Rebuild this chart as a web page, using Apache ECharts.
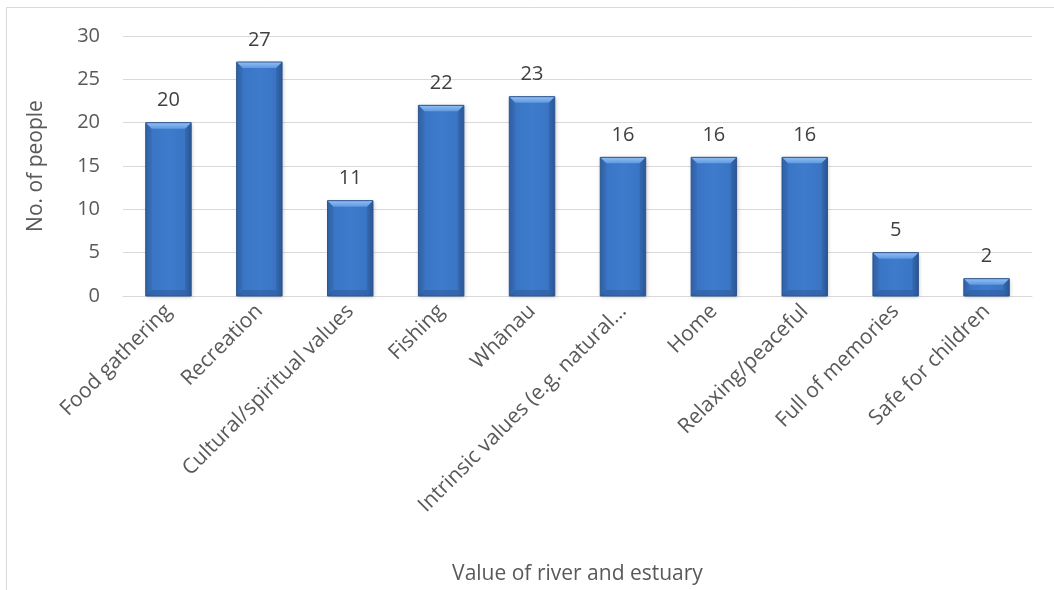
<!DOCTYPE html>
<html>
<head>
<meta charset="utf-8">
<script src="https://cdn.jsdelivr.net/npm/echarts@6/dist/echarts.min.js"></script>
<style>
  html, body { margin: 0; padding: 0; background: #fff; }
  #chart { width: 1054px; height: 590px; }
</style>
</head>
<body>
<div id="chart"></div>
<script>
// Values people attach to the river and estuary
const categories = [
  'Food gathering',
  'Recreation',
  'Cultural/spiritual values',
  'Fishing',
  'Whānau',
  'Intrinsic values (e.g. natural…',
  'Home',
  'Relaxing/peaceful',
  'Full of memories',
  'Safe for children'
];
const peopleCounts = [20, 27, 11, 22, 23, 16, 16, 16, 5, 2];
const yTicks = [0, 5, 10, 15, 20, 25, 30];

const FONT = '"Open Sans", "Liberation Sans", sans-serif';
const TEXT = '#595959';
const BAR_RATIO = 0.5;

const chart = echarts.init(document.getElementById('chart'), null, { renderer: 'canvas' });

const barFill = new echarts.graphic.LinearGradient(0, 0, 1, 0, [
  { offset: 0, color: '#3266ab' },
  { offset: 0.12, color: '#3a75c4' },
  { offset: 0.5, color: '#3e7bcc' },
  { offset: 0.88, color: '#3a75c4' },
  { offset: 1, color: '#2f60a2' }
]);

// Bevelled edges drawn over each bar, sized from the same axis scale
function renderBevel(params, api) {
  const idx = api.value(0);
  const top = api.coord([idx, api.value(1)]);
  const base = api.coord([idx, 0]);
  const w = api.size([1, 0])[0] * BAR_RATIO;
  const x0 = top[0] - w / 2, x1 = top[0] + w / 2;
  const y0 = top[1], y1 = base[1];
  const b = Math.min(6, (y1 - y0) / 2, w / 2);
  return {
    type: 'group',
    silent: true,
    children: [
      {
        type: 'polygon',
        shape: { points: [[x0, y0], [x1, y0], [x1 - b, y0 + b], [x0 + b, y0 + b]] },
        style: {
          fill: new echarts.graphic.LinearGradient(0, 0, 0, 1, [
            { offset: 0, color: '#93bff3' },
            { offset: 1, color: '#5f99e1' }
          ])
        }
      },
      {
        type: 'polygon',
        shape: { points: [[x0, y0], [x0 + b, y0 + b], [x0 + b, y1 - b], [x0, y1]] },
        style: { fill: 'rgba(30,60,110,0.12)' }
      },
      {
        type: 'polygon',
        shape: { points: [[x1, y0], [x1 - b, y0 + b], [x1 - b, y1 - b], [x1, y1]] },
        style: { fill: 'rgba(20,45,90,0.18)' }
      },
      {
        type: 'polygon',
        shape: { points: [[x0, y1], [x0 + b, y1 - b], [x1 - b, y1 - b], [x1, y1]] },
        style: { fill: 'rgba(20,45,90,0.22)' }
      },
      {
        type: 'rect',
        shape: { x: x0, y: y0, width: w, height: y1 - y0 },
        style: { fill: 'none', stroke: '#2c558f', lineWidth: 1 }
      }
    ]
  };
}

chart.setOption({
  animation: false,
  backgroundColor: '#fff',
  textStyle: { fontFamily: FONT },
  graphic: [{
    type: 'rect',
    shape: { x: 6.5, y: 7.5, width: 1060, height: 600 },
    style: { fill: 'none', stroke: '#d9d9d9', lineWidth: 1 },
    silent: true,
    z: -10
  }],
  grid: { left: 123, right: 22, top: 36, bottom: 294, containLabel: false },
  xAxis: {
    type: 'category',
    data: categories,
    name: 'Value of river and estuary',
    nameLocation: 'middle',
    nameGap: 268,
    nameTextStyle: { color: TEXT, fontSize: 21, fontFamily: FONT },
    axisLine: { show: true, lineStyle: { color: '#d9d9d9', width: 1 } },
    axisTick: { show: false },
    axisLabel: {
      interval: 0,
      rotate: 45,
      color: TEXT,
      fontSize: 21,
      fontFamily: FONT,
      margin: 12
    }
  },
  yAxis: {
    type: 'value',
    min: yTicks[0],
    max: yTicks[yTicks.length - 1],
    interval: yTicks[1] - yTicks[0],
    name: 'No. of people',
    nameLocation: 'middle',
    nameRotate: 90,
    nameGap: 76,
    nameTextStyle: { color: TEXT, fontSize: 21, fontFamily: FONT },
    axisLine: { show: false },
    axisTick: { show: false },
    axisLabel: { color: TEXT, fontSize: 20, fontFamily: FONT, margin: 23 },
    splitLine: { lineStyle: { color: '#d9d9d9', width: 1 } }
  },
  series: [
    {
      type: 'bar',
      data: peopleCounts,
      barWidth: (BAR_RATIO * 100) + '%',
      itemStyle: {
        color: barFill,
        shadowColor: 'rgba(0,0,0,0.22)',
        shadowBlur: 4,
        shadowOffsetX: 1,
        shadowOffsetY: 1
      },
      label: {
        show: true,
        position: 'top',
        distance: 12,
        color: '#404040',
        fontSize: 20,
        fontFamily: FONT
      }
    },
    {
      type: 'custom',
      renderItem: renderBevel,
      data: peopleCounts.map((v, i) => [i, v]),
      z: 3,
      silent: true
    }
  ]
});
</script>
</body>
</html>
